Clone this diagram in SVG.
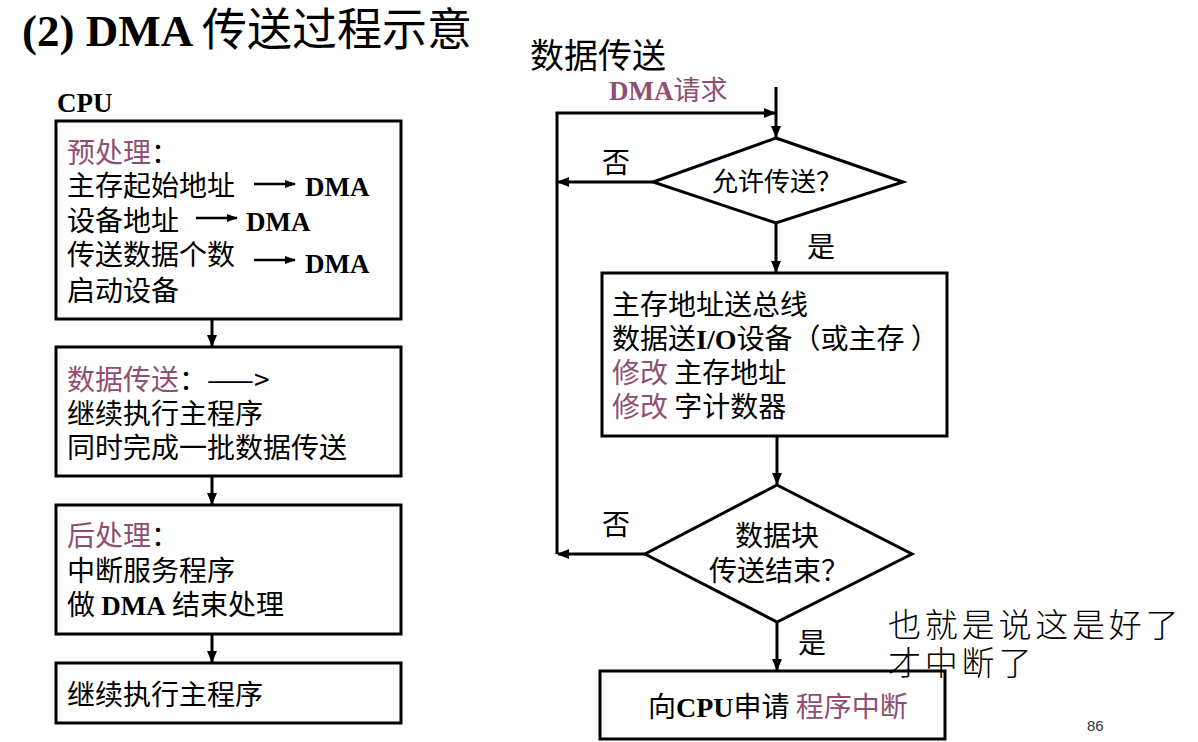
<svg xmlns="http://www.w3.org/2000/svg" width="1198" height="742" viewBox="0 0 1198 742">
<defs>
<style>
.cn{font-family:"Noto Sans CJK SC","Liberation Sans",sans-serif;font-size:28px;fill:#000}
.lat{font-family:"Liberation Serif","Noto Sans CJK SC",serif;font-weight:bold}
.pur{fill:#8f4e74}
.box{fill:#fff;stroke:#000;stroke-width:3}
.ln{fill:none;stroke:#000;stroke-width:3}
.thin{fill:none;stroke:#000;stroke-width:2.5}
</style>
<marker id="ah" markerWidth="12" markerHeight="10" refX="11" refY="5" orient="auto" markerUnits="userSpaceOnUse">
<path d="M0,0 L12,5 L0,10 Z" fill="#000"/>
</marker>
<marker id="ahs" markerWidth="11" markerHeight="8" refX="10" refY="4" orient="auto" markerUnits="userSpaceOnUse">
<path d="M0,0 L11,4 L0,8 Z" fill="#000"/>
</marker>
</defs>
<rect width="1198" height="742" fill="#fff"/>

<g id="title">
<text x="22" y="46" class="cn" style="font-size:45px"><tspan class="lat" font-size="45">(2) DMA </tspan>传送过程示意</text>
</g>

<g id="cpu-label">
<text x="57" y="112" class="lat" font-size="27">CPU</text>
</g>

<g id="box-pre">
<rect x="56" y="121" width="345" height="198" class="box"/>
<text x="67" y="163" class="cn"><tspan class="pur">预处理</tspan>：</text>
<text x="67" y="196" class="cn">主存起始地址</text>
<line x1="254" y1="184" x2="295" y2="184" class="thin" marker-end="url(#ahs)"/>
<text x="305" y="196" class="lat" font-size="27">DMA</text>
<text x="67" y="231" class="cn">设备地址</text>
<line x1="196" y1="218" x2="237" y2="218" class="thin" marker-end="url(#ahs)"/>
<text x="246" y="231" class="lat" font-size="27">DMA</text>
<text x="67" y="265" class="cn">传送数据个数</text>
<line x1="254" y1="260" x2="295" y2="260" class="thin" marker-end="url(#ahs)"/>
<text x="305" y="273" class="lat" font-size="27">DMA</text>
<text x="67" y="301" class="cn">启动设备</text>
</g>

<g id="box-transfer">
<rect x="56" y="347" width="345" height="129" class="box"/>
<text x="67" y="390" class="cn"><tspan class="pur">数据传送</tspan>：——&gt;</text>
<text x="67" y="424" class="cn">继续执行主程序</text>
<text x="67" y="458" class="cn">同时完成一批数据传送</text>
</g>

<g id="box-post">
<rect x="56" y="505" width="345" height="129" class="box"/>
<text x="67" y="546" class="cn"><tspan class="pur">后处理</tspan>：</text>
<text x="67" y="581" class="cn">中断服务程序</text>
<text x="67" y="615" class="cn">做 <tspan class="lat" font-size="27">DMA</tspan> 结束处理</text>
</g>

<g id="box-continue">
<rect x="56" y="663" width="345" height="60" class="box"/>
<text x="67" y="705" class="cn">继续执行主程序</text>
</g>

<g id="right-title">
<text x="530" y="68" class="cn" style="font-size:34px">数据传送</text>
</g>

<g id="dma-request">
<text x="609" y="100" class="cn pur" style="font-size:27px"><tspan class="lat" font-size="27">DMA</tspan>请求</text>
</g>

<g id="diamond-allow">
<polygon points="776,138 903,182 776,223 653,182" class="box"/>
<text x="777" y="191" class="cn" text-anchor="middle" style="font-size:26px">允许传送？</text>
</g>

<g id="box-ops">
<rect x="602" y="273" width="345" height="163" class="box"/>
<text x="612" y="315" class="cn">主存地址送总线</text>
<text x="612" y="349" class="cn">数据送<tspan class="lat" font-size="28">I/O</tspan>设备（或主存 ）</text>
<text x="612" y="383" class="cn"><tspan class="pur">修改</tspan> 主存地址</text>
<text x="612" y="417" class="cn"><tspan class="pur">修改</tspan> 字计数器</text>
</g>

<g id="diamond-done">
<polygon points="777,485 912,554 777,622 645,554" class="box"/>
<text x="777" y="546" class="cn" text-anchor="middle">数据块</text>
<text x="779" y="581" class="cn" text-anchor="middle">传送结束？</text>
</g>

<g id="box-interrupt">
<rect x="600" y="671" width="345" height="68" class="box"/>
<text x="648" y="717" class="cn">向<tspan class="lat" font-size="28">CPU</tspan>申请 <tspan class="pur">程序中断</tspan></text>
</g>

<g id="connectors">
<line x1="212" y1="319" x2="212" y2="346" class="ln" marker-end="url(#ah)"/>
<line x1="212" y1="476" x2="212" y2="504" class="ln" marker-end="url(#ah)"/>
<line x1="212" y1="634" x2="212" y2="662" class="ln" marker-end="url(#ah)"/>
<line x1="776" y1="87" x2="776" y2="137" class="ln" marker-end="url(#ah)"/>
<polyline points="557,554 557,113 775,113" class="ln" marker-end="url(#ah)"/>
<line x1="653" y1="182" x2="558" y2="182" class="ln" marker-end="url(#ah)"/>
<line x1="776" y1="223" x2="776" y2="272" class="ln" marker-end="url(#ah)"/>
<line x1="777" y1="436" x2="777" y2="484" class="ln" marker-end="url(#ah)"/>
<line x1="645" y1="554" x2="558" y2="554" class="ln" marker-end="url(#ah)"/>
<line x1="777" y1="622" x2="777" y2="670" class="ln" marker-end="url(#ah)"/>
<text x="602" y="173" class="cn">否</text>
<text x="807" y="257" class="cn">是</text>
<text x="602" y="535" class="cn">否</text>
<text x="798" y="653" class="cn">是</text>
</g>

<g id="annotation">
<text x="888" y="637" class="cn" style="font-size:33px;letter-spacing:3.8px;font-weight:300">也就是说这是好了</text>
<text x="888" y="675" class="cn" style="font-size:33px;letter-spacing:3.8px;font-weight:300">才中断了</text>
</g>

<g id="page-number">
<text x="1087" y="731" font-family="Liberation Sans, sans-serif" font-size="15" fill="#333">86</text>
</g>
</svg>
